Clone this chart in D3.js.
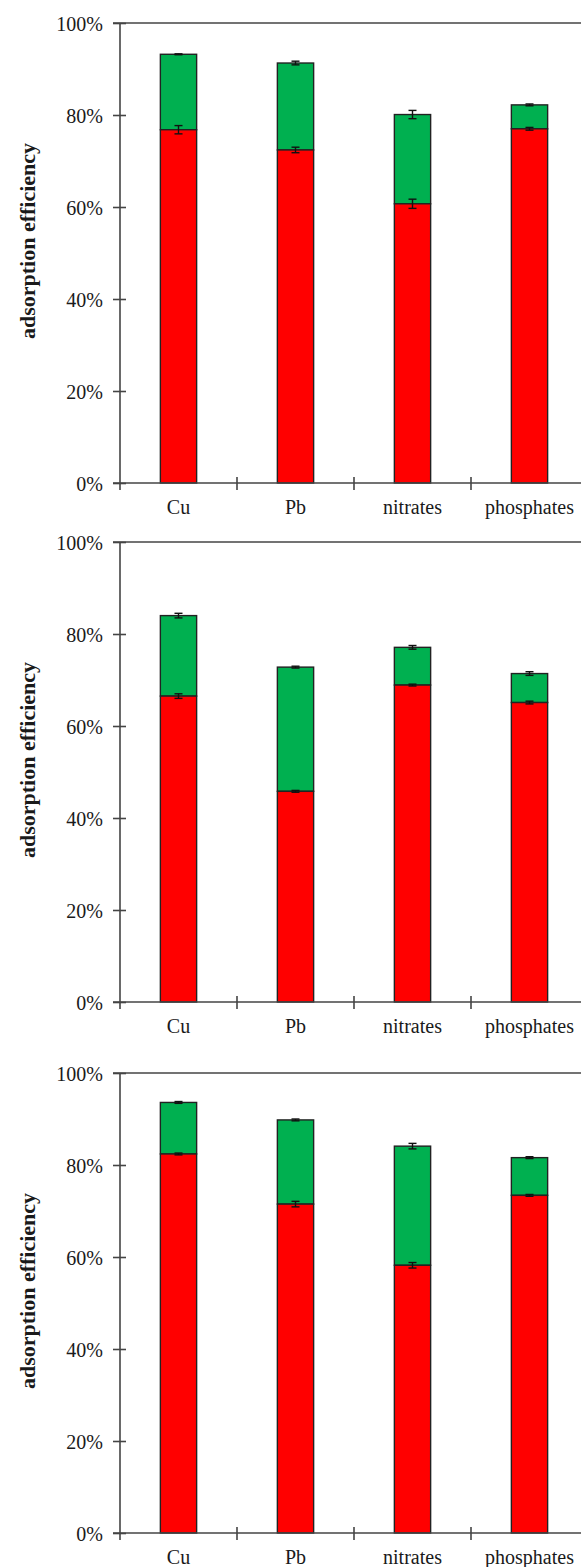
<!DOCTYPE html>
<html>
<head>
<meta charset="utf-8">
<script src="https://cdn.jsdelivr.net/npm/d3@7"></script>
<style>
  html, body { margin: 0; padding: 0; background: #fff; }
  svg text { font-family: "Liberation Serif", "Times New Roman", serif; fill: #1a1a1a; }
</style>
</head>
<body>
<svg id="here"></svg>
<script>
// categories on the x axis
const categories = ["Cu", "Pb", "nitrates", "phosphates"];
// lower (red) part of each stacked bar, one row per panel (fraction)
const redValues = [
  [0.768, 0.724, 0.607, 0.770],
  [0.665, 0.458, 0.689, 0.651],
  [0.824, 0.715, 0.582, 0.734]
];
const redErrors = [
  [0.009, 0.006, 0.010, 0.003],
  [0.005, 0.002, 0.002, 0.003],
  [0.002, 0.006, 0.006, 0.002]
];
// total height of each bar (red + green)
const totalValues = [
  [0.932, 0.913, 0.801, 0.822],
  [0.840, 0.728, 0.771, 0.714],
  [0.936, 0.898, 0.841, 0.816]
];
const totalErrors = [
  [0.001, 0.004, 0.009, 0.002],
  [0.005, 0.002, 0.004, 0.004],
  [0.002, 0.002, 0.006, 0.002]
];
const yTicks = [0, 0.2, 0.4, 0.6, 0.8, 1.0];
const yLabel = "adsorption efficiency";

const width = 581, height = 1567;
const panelTops = [23, 542, 1073];
const plotH = 460;
const left = 120, band = 117;

const svg = d3.select("#here").attr("width", width).attr("height", height);

panelTops.forEach((top, p) => {
  const g = svg.append("g");
  const bottom = top + plotH;

  const x = d3.scaleBand()
    .domain(categories)
    .range([left, left + band * categories.length])
    .paddingInner(0.69).paddingOuter(0.345);
  const y = d3.scaleLinear().domain([0, 1]).range([bottom, top]);

  // top border line at 100%
  g.append("line")
    .attr("x1", left - 7).attr("x2", width)
    .attr("y1", y(1)).attr("y2", y(1))
    .attr("stroke", "#444").attr("stroke-width", 1.6);

  // bars
  const rows = categories.map((c, i) => ({
    c, red: redValues[p][i], tot: totalValues[p][i],
    re: redErrors[p][i], te: totalErrors[p][i]
  }));

  g.selectAll(".green").data(rows).enter().append("rect")
    .attr("x", d => x(d.c)).attr("width", x.bandwidth())
    .attr("y", d => y(d.tot)).attr("height", d => y(d.red) - y(d.tot))
    .attr("fill", "#00B050").attr("stroke", "#222").attr("stroke-width", 1.4);

  g.selectAll(".red").data(rows).enter().append("rect")
    .attr("x", d => x(d.c)).attr("width", x.bandwidth())
    .attr("y", d => y(d.red)).attr("height", d => y(0) - y(d.red))
    .attr("fill", "#FF0000").attr("stroke", "#222").attr("stroke-width", 1.4);

  // error bars
  const errs = [];
  rows.forEach(d => {
    errs.push({c: d.c, v: d.red, e: d.re});
    errs.push({c: d.c, v: d.tot, e: d.te});
  });
  const eg = g.selectAll(".err").data(errs).enter().append("g")
    .attr("stroke", "#111").attr("stroke-width", 1.4);
  const cx = d => x(d.c) + x.bandwidth() / 2;
  eg.append("line")
    .attr("x1", cx).attr("x2", cx)
    .attr("y1", d => y(d.v + d.e)).attr("y2", d => y(d.v - d.e));
  eg.append("line")
    .attr("x1", d => cx(d) - 4).attr("x2", d => cx(d) + 4)
    .attr("y1", d => y(d.v + d.e)).attr("y2", d => y(d.v + d.e));
  eg.append("line")
    .attr("x1", d => cx(d) - 4).attr("x2", d => cx(d) + 4)
    .attr("y1", d => y(d.v - d.e)).attr("y2", d => y(d.v - d.e));

  // y axis
  const yAxis = g.append("g")
    .attr("transform", `translate(${left},0)`)
    .call(d3.axisLeft(y).tickValues(yTicks).tickFormat(d3.format(".0%"))
      .tickSizeOuter(0).tickPadding(11));
  yAxis.select(".domain").attr("stroke", "#444").attr("stroke-width", 1.6)
    .attr("d", `M0,${y(1)}V${y(0) + 7}`);
  yAxis.selectAll(".tick line").attr("x1", -7).attr("x2", 6)
    .attr("stroke", "#444").attr("stroke-width", 1.6);
  yAxis.selectAll(".tick text").style("font-size", "20px").attr("dy", "0.35em");

  // x axis
  const xAxis = g.append("g")
    .attr("transform", `translate(0,${bottom})`)
    .call(d3.axisBottom(x).tickSize(0).tickPadding(17));
  xAxis.select(".domain").attr("stroke", "#444").attr("stroke-width", 1.6)
    .attr("d", `M${left - 7},0H${width}`);
  xAxis.selectAll(".tick text").style("font-size", "20px").attr("dy", "0.71em");

  // category separators
  g.selectAll(".sep").data(d3.range(1, categories.length + 1)).enter().append("line")
    .attr("x1", i => left + band * i).attr("x2", i => left + band * i)
    .attr("y1", bottom - 6).attr("y2", bottom + 7)
    .attr("stroke", "#444").attr("stroke-width", 1.6);

  // y label
  g.append("text")
    .attr("transform", `translate(27,${(top + bottom) / 2 - 12}) rotate(-90)`)
    .attr("text-anchor", "middle").attr("dy", "0.35em")
    .style("font-size", "22px").style("font-weight", "bold")
    .text(yLabel);
});
</script>
</body>
</html>
